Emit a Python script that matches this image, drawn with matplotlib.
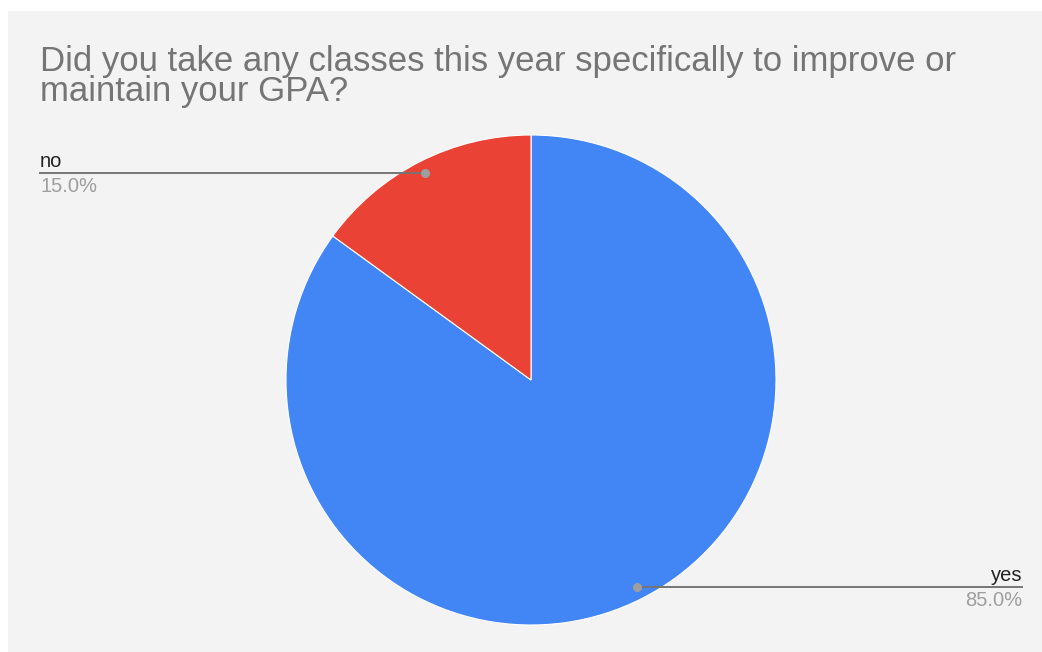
import numpy as np
import matplotlib.pyplot as plt
from matplotlib.patches import Rectangle

plt.rcParams['font.family'] = ['Liberation Sans', 'DejaVu Sans']

title = 'Did you take any classes this year specifically to improve or\nmaintain your GPA?'
labels = ['yes', 'no']
values = [85.0, 15.0]
colors = ['#4285f4', '#ea4335']

W, H = 1042, 652
fig = plt.figure(figsize=(W / 100, H / 100), dpi=100)
fig.patch.set_facecolor('white')
fig.add_artist(Rectangle((8 / W, 0), (W - 8) / W, (H - 11) / H,
                         transform=fig.transFigure, facecolor='#f3f3f3',
                         edgecolor='none', zorder=0))

ax = fig.add_axes([0, 0, 1, 1])
ax.set_aspect('equal')

cx, cy, r = 531, H - 380, 245
wedges, _ = ax.pie(values, colors=colors, startangle=90, counterclock=False,
                   center=(cx, cy), radius=r, frame=True,
                   wedgeprops=dict(edgecolor='white', linewidth=0.8))
ax.set_xlim(0, W)
ax.set_ylim(0, H)
ax.axis('off')

# baseline of the last title line
fig.text(40 / W, 1 - 101 / H, title, ha='left', va='baseline', fontsize=25,
         color='#757575', linespacing=0.87)

total = sum(values)
for w, lab, v in zip(wedges, labels, values):
    mid = np.deg2rad((w.theta1 + w.theta2) / 2)
    px = cx + 0.95 * r * np.cos(mid)
    py = cy + 0.95 * r * np.sin(mid)
    if np.cos(mid) < 0:
        x_end, ha = 40, 'left'
    else:
        x_end, ha = 1022, 'right'
    ax.plot([px, x_end], [py, py], color='#757575', lw=1.4, zorder=5)
    ax.plot(px, py, 'o', color='#9e9e9e', ms=5.5, zorder=6)
    ax.text(x_end, py + 6, lab, ha=ha, va='baseline', fontsize=14.5,
            color='#222222')
    ax.text(x_end, py - 19, '%.1f%%' % (v / total * 100), ha=ha,
            va='baseline', fontsize=14.5, color='#9e9e9e')

fig.savefig('out.png', dpi=100)
